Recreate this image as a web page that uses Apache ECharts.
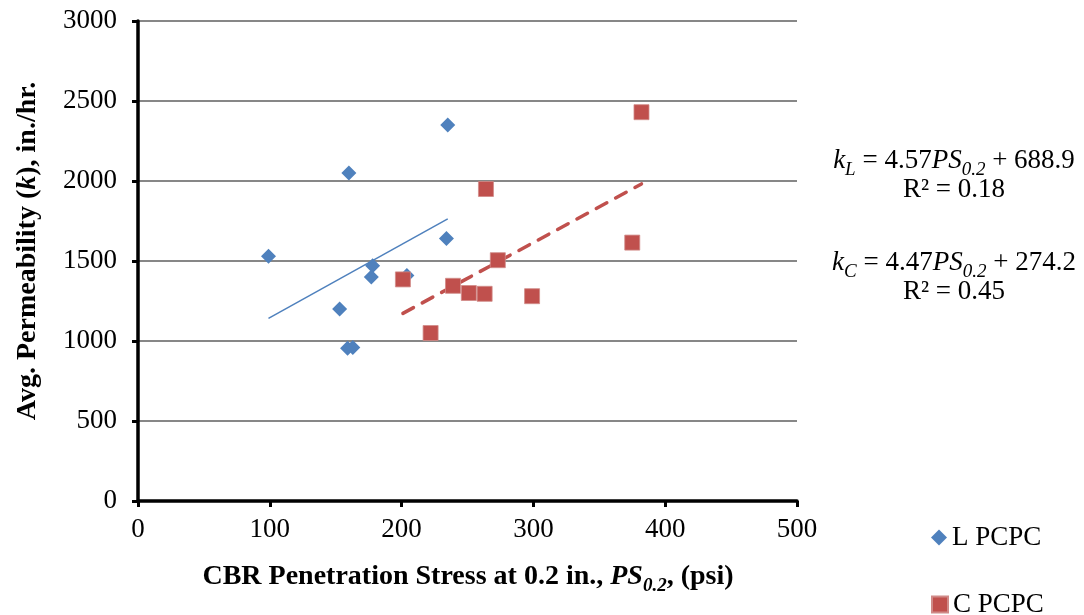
<!DOCTYPE html>
<html>
<head>
<meta charset="utf-8">
<style>
  html, body { margin: 0; padding: 0; background: #fff; }
  #chart { width: 1084px; height: 615px; }
</style>
<script src="https://cdn.jsdelivr.net/npm/echarts@6/dist/echarts.min.js"></script>
</head>
<body>
<div id="chart"></div>
<script>
// L PCPC: CBR penetration stress (psi) vs. average permeability (in./hr.)
const lStress = [99, 160, 235, 234, 178, 177, 204, 153, 159, 163];
const lPerm   = [1530, 2050, 2350, 1640, 1470, 1400, 1410, 1200, 955, 960];

// C PCPC
const cStress = [264, 201, 239, 251, 263, 222, 273, 382, 375, 299];
const cPerm   = [1950, 1385, 1345, 1300, 1295, 1050, 1505, 2430, 1615, 1280];

// Linear fits as reported: k = slope * PS + intercept
const lFit = { slope: 4.57, intercept: 688.9, r2: 0.18 };
const cFit = { slope: 4.47, intercept: 274.2, r2: 0.45 };

const xTicks = [0, 100, 200, 300, 400, 500];
const yTicks = [0, 500, 1000, 1500, 2000, 2500, 3000];

const SERIF = '"Liberation Serif", "DejaVu Serif", serif';
const BLUE = '#4F81BD';
const RED = '#C0504D';
const FS = 27;

function pairs(xs, ys) { return xs.map((x, i) => [x, ys[i]]); }
function fitLine(xs, fit) {
  const lo = Math.min(...xs), hi = Math.max(...xs);
  return [[lo, fit.slope * lo + fit.intercept], [hi, fit.slope * hi + fit.intercept]];
}

const eqRich = {
  n: { fontFamily: SERIF, fontSize: FS, color: '#000', lineHeight: 29, verticalAlign: 'middle' },
  i: { fontFamily: SERIF, fontSize: FS, color: '#000', fontStyle: 'italic', lineHeight: 29, verticalAlign: 'middle' },
  s: { fontFamily: SERIF, fontSize: 19, color: '#000', fontStyle: 'italic', lineHeight: 29, verticalAlign: 'bottom', padding: [0, 0, -4, 0] }
};
function eqText(sub, fit) {
  return '{i|k}{s|' + sub + '}{n| = ' + fit.slope.toFixed(2) + '}{i|PS}{s|0.2}{n| + ' + fit.intercept.toFixed(1) + '}\n{n|R² = ' + fit.r2.toFixed(2) + '}';
}

const legendText = { fontFamily: SERIF, fontSize: FS, color: '#000' };

const chart = echarts.init(document.getElementById('chart'), null, { renderer: 'canvas' });

chart.setOption({
  animation: false,
  backgroundColor: '#fff',
  grid: { left: 138, right: 287, top: 21, bottom: 114, containLabel: false },
  xAxis: {
    type: 'value', min: xTicks[0], max: xTicks[xTicks.length - 1], interval: 100,
    axisLine: { show: true, onZero: false, lineStyle: { color: '#000', width: 3.5 } },
    axisTick: { show: true, inside: false, length: 6, lineStyle: { color: '#000', width: 3 } },
    axisLabel: { color: '#000', fontFamily: SERIF, fontSize: FS, margin: 15, formatter: v => String(v) },
    splitLine: { show: false }
  },
  yAxis: {
    type: 'value', min: yTicks[0], max: yTicks[yTicks.length - 1], interval: 500,
    axisLine: { show: true, lineStyle: { color: '#000', width: 3.5 } },
    axisTick: { show: true, inside: false, length: 6, lineStyle: { color: '#000', width: 3 } },
    axisLabel: { color: '#000', fontFamily: SERIF, fontSize: FS, margin: 21, formatter: v => String(v) },
    splitLine: { show: true, lineStyle: { color: '#878787', width: 2 } }
  },
  legend: [
    {
      data: [{ name: 'L PCPC', icon: 'diamond' }],
      left: 926, top: 519, itemWidth: 16, itemHeight: 16, itemGap: 4,
      textStyle: legendText
    },
    {
      data: [{ name: 'C PCPC', icon: 'rect' }],
      left: 926, top: 586, itemWidth: 16, itemHeight: 16, itemGap: 4,
      textStyle: legendText
    }
  ],
  graphic: [
    {
      type: 'text', x: 28, y: 251, rotation: Math.PI / 2,
      style: {
        text: '{b|Avg. Permeability (}{bi|k}{b|), in./hr.}',
        align: 'center', verticalAlign: 'middle',
        rich: {
          b:  { fontFamily: SERIF, fontSize: 28, fontWeight: 'bold', color: '#000' },
          bi: { fontFamily: SERIF, fontSize: 28, fontWeight: 'bold', fontStyle: 'italic', color: '#000' }
        }
      }
    },
    {
      type: 'text', x: 468, y: 577,
      style: {
        text: '{b|CBR Penetration Stress at 0.2 in., }{bi|PS}{bs|0.2}{b|, (psi)}',
        align: 'center', verticalAlign: 'middle',
        rich: {
          b:  { fontFamily: SERIF, fontSize: 28, fontWeight: 'bold', color: '#000', lineHeight: 32, verticalAlign: 'middle' },
          bi: { fontFamily: SERIF, fontSize: 28, fontWeight: 'bold', fontStyle: 'italic', color: '#000', lineHeight: 32, verticalAlign: 'middle' },
          bs: { fontFamily: SERIF, fontSize: 19, fontWeight: 'bold', fontStyle: 'italic', color: '#000', lineHeight: 32, verticalAlign: 'bottom', padding: [0, 0, -3, 0] }
        }
      }
    },
    {
      type: 'text', x: 954, y: 146,
      style: { text: eqText('L', lFit), rich: eqRich, align: 'center' }
    },
    {
      type: 'text', x: 954, y: 248,
      style: { text: eqText('C', cFit), rich: eqRich, align: 'center' }
    }
  ],
  series: [
    {
      name: 'L PCPC', type: 'scatter', symbol: 'diamond', symbolSize: 15,
      itemStyle: { color: BLUE, opacity: 1 },
      data: pairs(lStress, lPerm), z: 3
    },
    {
      name: 'C PCPC', type: 'scatter', symbol: 'rect', symbolSize: 15,
      itemStyle: { color: RED, opacity: 1, borderColor: '#D08A88', borderWidth: 0.8 },
      data: pairs(cStress, cPerm), z: 3
    },
    {
      name: 'L fit', type: 'line', symbol: 'none', silent: true,
      lineStyle: { color: BLUE, width: 1.5 },
      data: fitLine(lStress, lFit), z: 2
    },
    {
      name: 'C fit', type: 'line', symbol: 'none', silent: true,
      lineStyle: { color: RED, width: 3.5, type: [12, 10], cap: 'round' },
      data: fitLine(cStress, cFit), z: 2
    }
  ]
});
</script>
</body>
</html>
